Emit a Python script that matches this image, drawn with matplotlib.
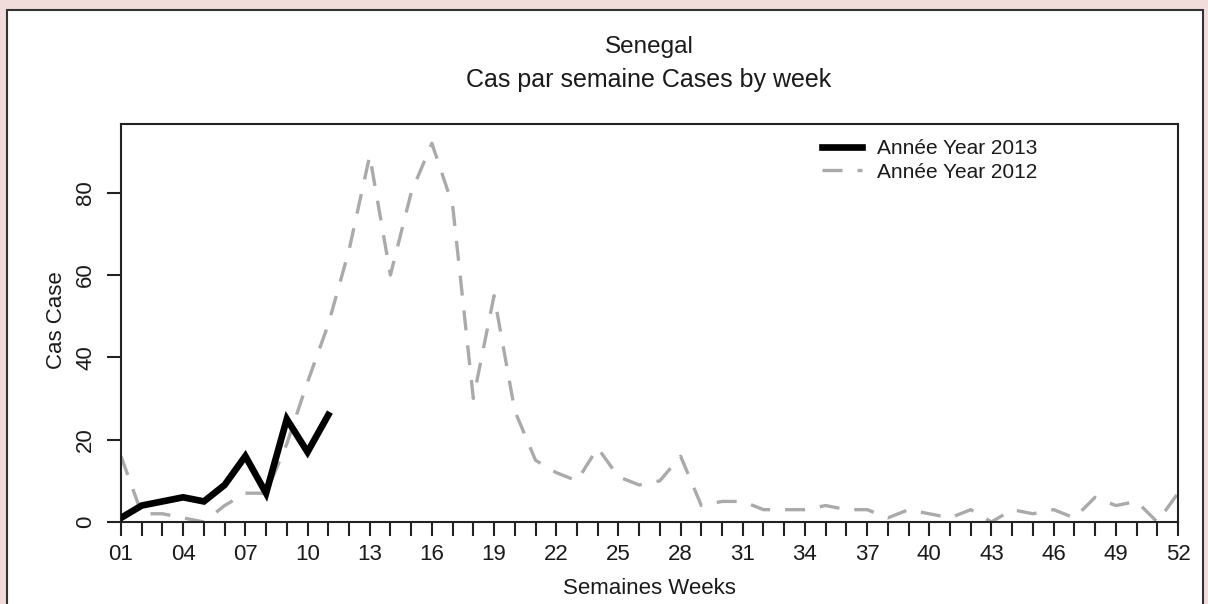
import matplotlib
matplotlib.use("Agg")
import matplotlib.pyplot as plt
from matplotlib.patches import Rectangle

# weekly case counts
weeks = list(range(1, 53))
weeks_2013 = list(range(1, 12))
cases_2013 = [1, 4, 5, 6, 5, 9, 16, 7, 25, 17, 26]
cases_2012 = [16, 2, 2, 1, 0, 4, 7, 7, 19, 34,
              48, 66, 89, 60, 80, 92, 77, 30, 55, 27,
              15, 12, 10, 18, 11, 9, 10, 16, 4, 5,
              5, 3, 3, 3, 4, 3, 3, 1, 3, 2,
              1, 3, 0, 3, 2, 3, 1, 6, 4, 5,
              0, 7]
y_ticks = [0, 20, 40, 60, 80]
x_labelled = list(range(1, 53, 3))

plt.rcParams['font.family'] = ['Liberation Sans', 'DejaVu Sans']
text_col = '#1a1a1a'
W, H = 1208, 604

fig = plt.figure(figsize=(12.08, 6.04), dpi=100, facecolor='#F2DCDB')

# white panel with dark border
panel = Rectangle((7 / W, -0.05), (1203 - 7) / W, (1 - 10 / H) + 0.05,
                  transform=fig.transFigure, facecolor='white',
                  edgecolor='#333333', linewidth=1.5, zorder=-10)
fig.patches.append(panel)

ax = fig.add_axes([121 / W, 1 - 522 / H, (1178 - 121) / W, (522 - 124) / H])
ax.set_zorder(1)
ax.set_facecolor('white')

ax.plot(weeks, cases_2012, color='#AAAAAA', linewidth=2.4,
        dashes=(6, 4.5), dash_capstyle='butt', label='Année Year 2012', zorder=2)
ax.plot(weeks_2013, cases_2013, color='black', linewidth=4.8,
        solid_joinstyle='miter', label='Année Year 2013', zorder=3)

ax.set_xlim(1, 52)
ax.set_ylim(0, 96.7)

ax.set_xticks(weeks)
ax.set_xticklabels([f"{w:02d}" if w in x_labelled else '' for w in weeks],
                   fontsize=16, color=text_col)
ax.set_yticks(y_ticks)
ax.set_yticklabels([str(v) for v in y_ticks], rotation=90, va='center',
                   fontsize=16, color=text_col)
ax.tick_params(axis='both', length=10, width=1.5, color='#222222')
ax.tick_params(axis='x', pad=6)
ax.tick_params(axis='y', pad=8)
for sp in ax.spines.values():
    sp.set_linewidth(1.5)
    sp.set_color('#222222')

handles, labels = ax.get_legend_handles_labels()
leg = ax.legend(handles[::-1], labels[::-1], loc='upper left',
                bbox_to_anchor=(822 / W, 1 - 139 / H),
                bbox_transform=fig.transFigure, frameon=False, fontsize=15,
                handlelength=1.9, handletextpad=0.75, labelspacing=0.22,
                borderpad=0, borderaxespad=0)
for t in leg.get_texts():
    t.set_color(text_col)

fig.text(649 / W, 1 - 53 / H, 'Senegal', ha='center', va='baseline',
         fontsize=17.5, color=text_col)
fig.text(649 / W, 1 - 87 / H, 'Cas par semaine Cases by week', ha='center',
         va='baseline', fontsize=18, color=text_col)
fig.text(649 / W, 1 - 588 / H, 'Semaines Weeks', ha='center', va='center',
         fontsize=16, color=text_col)
fig.text(57 / W, 1 - 320 / H, 'Cas Case', ha='center', va='center',
         rotation=90, fontsize=16, color=text_col)

fig.savefig('out.png', dpi=100, facecolor=fig.get_facecolor())
plt.close(fig)
